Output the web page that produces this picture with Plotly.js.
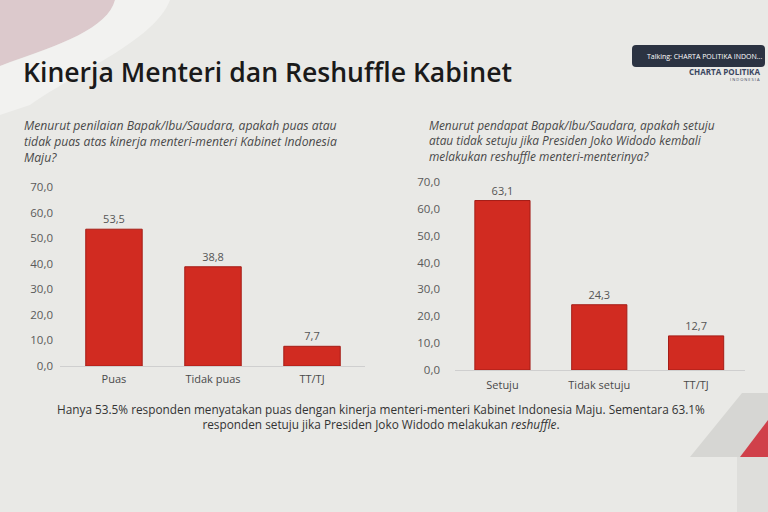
<!DOCTYPE html>
<html>
<head>
<meta charset="utf-8">
<script src="https://cdn.plot.ly/plotly-3.0.1.min.js"></script>
<style>
  html, body { margin: 0; padding: 0; background: #e9e9e6; }
  #chart { width: 768px; height: 512px; }
</style>
</head>
<body>
<div id="chart"></div>
<script>
// ---- Data ----
const leftCategories = ["Puas", "Tidak puas", "TT/TJ"];
const leftValues = [53.5, 38.8, 7.7];
const rightCategories = ["Setuju", "Tidak setuju", "TT/TJ"];
const rightValues = [63.1, 24.3, 12.7];
const yTickValues = [0, 10, 20, 30, 40, 50, 60, 70];

const chartTitle = "Kinerja Menteri dan Reshuffle Kabinet";
const leftQuestion = "Menurut penilaian Bapak/Ibu/Saudara, apakah puas atau<br>tidak puas atas kinerja menteri-menteri Kabinet Indonesia<br>Maju?";
const rightQuestion = "Menurut pendapat Bapak/Ibu/Saudara, apakah setuju<br>atau tidak setuju jika Presiden Joko Widodo kembali<br>melakukan reshuffle menteri-menterinya?";
const footnote = "Hanya 53.5% responden menyatakan puas dengan kinerja menteri-menteri Kabinet Indonesia Maju. Sementara 63.1%<br>responden setuju jika Presiden Joko Widodo melakukan <i>reshuffle</i>.";

const fmt = v => v.toFixed(1).replace('.', ',');

const W = 768, H = 512;
const px = x => x / W;
const py = y => 1 - y / H;

const barColor = "#d12b21";
const barLine = "#a41d17";
const FONT = "Open Sans, sans-serif";

const traces = [
  {
    type: "bar", x: leftCategories, y: leftValues, xaxis: "x", yaxis: "y",
    marker: { color: barColor, line: { color: barLine, width: 1 } },
    text: leftValues.map(fmt), textposition: "outside", cliponaxis: false,
    textfont: { family: FONT, size: 11, color: "#555" },
    hoverinfo: "none", showlegend: false
  },
  {
    type: "bar", x: rightCategories, y: rightValues, xaxis: "x2", yaxis: "y2",
    marker: { color: barColor, line: { color: barLine, width: 1 } },
    text: rightValues.map(fmt), textposition: "outside", cliponaxis: false,
    textfont: { family: FONT, size: 11, color: "#555" },
    hoverinfo: "none", showlegend: false
  }
];

const yTickFont = { family: FONT, size: 11.5, color: "#5a5a5a" };
const xTickFont = { family: FONT, size: 11, color: "#4a4a4a" };

const layout = {
  width: W, height: H,
  margin: { l: 0, r: 0, t: 0, b: 0 },
  paper_bgcolor: "#e9e9e6",
  plot_bgcolor: "rgba(0,0,0,0)",
  separators: ",.",
  bargap: 0.43,
  showlegend: false,
  xaxis: {
    domain: [px(60), px(365)], anchor: "y",
    range: [-0.545, 2.535], fixedrange: true,
    showline: true, linecolor: "#cfcfcf", linewidth: 1,
    showgrid: false, zeroline: false, ticks: "",
    tickfont: xTickFont, ticklabelstandoff: 3
  },
  yaxis: {
    domain: [py(366), py(187)], anchor: "x",
    range: [0, 70], fixedrange: true,
    tickvals: yTickValues, tickformat: ".1f",
    showgrid: false, zeroline: false, showline: false, ticks: "",
    tickfont: yTickFont, ticklabelstandoff: 6
  },
  xaxis2: {
    domain: [px(455), px(745)], anchor: "y2",
    range: [-0.49, 2.505], fixedrange: true,
    showline: true, linecolor: "#cfcfcf", linewidth: 1,
    showgrid: false, zeroline: false, ticks: "",
    tickfont: xTickFont, ticklabelstandoff: 5
  },
  yaxis2: {
    domain: [py(370), py(182)], anchor: "x2",
    range: [0, 70], fixedrange: true,
    tickvals: yTickValues, tickformat: ".1f",
    showgrid: false, zeroline: false, showline: false, ticks: "",
    tickfont: yTickFont, ticklabelstandoff: 14
  },
  shapes: [
    // faint pink blurred decoration top-left
    { type: "path", xref: "paper", yref: "paper", layer: "below",
      path: `M 0 ${py(0)} L ${px(115)} ${py(0)} C ${px(108)} ${py(28)}, ${px(60)} ${py(45)}, ${px(10)} ${py(62)} L 0 ${py(66)} Z`,
      fillcolor: "rgba(208,170,178,0.5)", line: { width: 0 } },
    { type: "path", xref: "paper", yref: "paper", layer: "below",
      path: `M ${px(115)} ${py(0)} L ${px(170)} ${py(0)} C ${px(155)} ${py(40)}, ${px(80)} ${py(70)}, ${px(30)} ${py(105)} L 0 ${py(115)} L 0 ${py(66)} C ${px(60)} ${py(45)}, ${px(108)} ${py(28)}, ${px(115)} ${py(0)} Z`,
      fillcolor: "rgba(255,255,255,0.4)", line: { width: 0 } },
    // bottom-right decorations
    { type: "path", xref: "paper", yref: "paper", layer: "below",
      path: `M ${px(690)} ${py(457)} L ${px(742)} ${py(393)} L ${px(768)} ${py(393)} L ${px(768)} ${py(457)} Z`,
      fillcolor: "#d6d6d3", line: { width: 0 } },
    { type: "path", xref: "paper", yref: "paper", layer: "below",
      path: `M ${px(740)} ${py(457)} L ${px(768)} ${py(420)} L ${px(768)} ${py(457)} Z`,
      fillcolor: "#d0404a", line: { width: 0 } },
    { type: "rect", xref: "paper", yref: "paper", layer: "below",
      x0: px(737), x1: px(768), y0: py(512), y1: py(457),
      fillcolor: "#dededb", line: { width: 0 } },
    // talking tooltip box
    { type: "path", xref: "paper", yref: "paper",
      path: `M ${px(636)} ${py(45)} L ${px(761)} ${py(45)} Q ${px(765)} ${py(45)}, ${px(765)} ${py(49)} L ${px(765)} ${py(63)} Q ${px(765)} ${py(67)}, ${px(761)} ${py(67)} L ${px(636)} ${py(67)} Q ${px(632)} ${py(67)}, ${px(632)} ${py(63)} L ${px(632)} ${py(49)} Q ${px(632)} ${py(45)}, ${px(636)} ${py(45)} Z`,
      fillcolor: "#2b3342", line: { width: 0 } }
  ],
  annotations: [
    { xref: "paper", yref: "paper", x: px(21), y: py(72), xanchor: "left", yanchor: "middle",
      text: chartTitle, showarrow: false,
      font: { family: FONT, size: 26.6, color: "#1a1a1a", weight: 600 } },
    { xref: "paper", yref: "paper", x: px(22), y: py(115), xanchor: "left", yanchor: "top",
      text: "<i>" + leftQuestion + "</i>", showarrow: false, align: "left",
      font: { family: FONT, size: 12.2, color: "#4a4a4a" } },
    { xref: "paper", yref: "paper", x: px(427), y: py(115), xanchor: "left", yanchor: "top",
      text: "<i>" + rightQuestion + "</i>", showarrow: false, align: "left",
      font: { family: FONT, size: 11.9, color: "#4a4a4a" } },
    { xref: "paper", yref: "paper", x: px(381), y: py(416), xanchor: "center", yanchor: "middle",
      text: footnote, showarrow: false, align: "center",
      font: { family: FONT, size: 11.8, color: "#333" } },
    { xref: "paper", yref: "paper", x: px(645), y: py(56), xanchor: "left", yanchor: "middle",
      text: "Talking: CHARTA POLITIKA INDON...", showarrow: false,
      font: { family: FONT, size: 7, color: "#ffffff" } },
    { xref: "paper", yref: "paper", x: px(762), y: py(71), xanchor: "right", yanchor: "middle",
      text: "<b>CHARTA POLITIKA</b>", showarrow: false,
      font: { family: FONT, size: 8, color: "#3a4660" } },
    { xref: "paper", yref: "paper", x: px(762), y: py(79), xanchor: "right", yanchor: "middle",
      text: "I N D O N E S I A", showarrow: false,
      font: { family: FONT, size: 4, color: "#3a4660" } }
  ]
};

Plotly.newPlot("chart", traces, layout, { staticPlot: true, displayModeBar: false });
</script>
</body>
</html>
